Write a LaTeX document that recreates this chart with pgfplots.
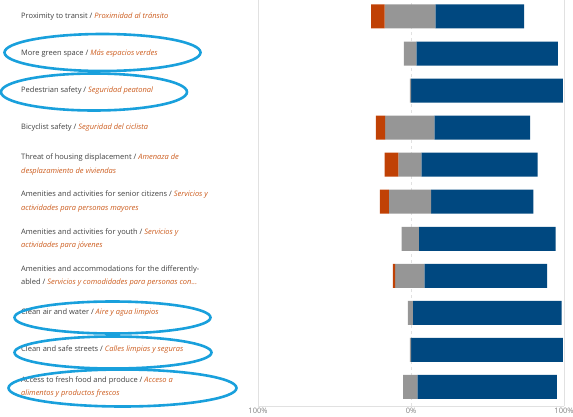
\documentclass[border=0pt]{standalone}
\usepackage{pgfplots}
\pgfplotsset{compat=1.18}
\usepackage{pgfplotstable}
\usepackage{fontspec}
\setmainfont{Open Sans}
\definecolor{negc}{RGB}{192,65,5}
\definecolor{neuc}{RGB}{150,150,150}
\definecolor{posc}{RGB}{0,72,128}
\definecolor{esc}{RGB}{204,92,30}
\definecolor{lblc}{RGB}{64,64,64}
\definecolor{ringc}{RGB}{25,160,220}
\definecolor{gridc}{RGB}{225,225,225}
\newcommand{\es}[1]{\textcolor{esc}{\textit{#1}}}

% x axis runs 0..200, where 100 is the 0% line
\pgfplotstableread{
y start neg neu pos
11 74.0 8.7 33.2 58.1
10 95.4 0 8.1 92.5
9 99.3 0 0.8 99.2
8 77.0 6.1 32.2 62.5
7 82.7 9.0 15.1 76.0
6 79.7 5.9 27.5 66.9
5 93.8 0 11.4 89.4
4 88.2 1.5 19.0 80.2
3 98.0 0 3.3 97.1
2 99.3 0 0.7 99.3
1 94.8 0 9.3 91.2
}\datatable

\begin{document}
\begin{tikzpicture}
\useasboundingbox (0,0) rectangle (573bp,-417bp);
\begin{axis}[
  at={(258bp,-406bp)}, anchor=south west,
  scale only axis, width=306bp, height=406bp,
  xbar stacked, bar width=24bp,
  xmin=0, xmax=200, ymin=0.487, ymax=11.445,
  axis line style={draw=none},
  major tick style={draw=none},
  xtick={0,200}, xticklabels={100\%,100\%},
  extra x ticks={100}, extra x tick labels={0\%},
  extra x tick style={grid style={gridc, dashed, line width=0.6pt}},
  xmajorgrids, grid style={gridc, line width=0.6pt},
  xticklabel style={font=\fontsize{7.5bp}{9bp}\selectfont, text=gray, inner sep=1.5pt},
  ytick={1,...,11},
  yticklabels={
    {Access to fresh food and produce / \es{Acceso a}\\\es{alimentos y productos frescos}},
    {Clean and safe streets / \es{Calles limpias y seguras}},
    {Clean air and water / \es{Aire y agua limpios}},
    {Amenities and accommodations for the differently-\\abled / \es{Servicios y comodidades para personas con...}},
    {Amenities and activities for youth / \es{Servicios y}\\\es{actividades para jóvenes}},
    {Amenities and activities for senior citizens / \es{Servicios y}\\\es{actividades para personas mayores}},
    {Threat of housing displacement / \es{Amenaza de}\\\es{desplazamiento de viviendas}},
    {Bicyclist safety / \es{Seguridad del ciclista}},
    {Pedestrian safety / \es{Seguridad peatonal}},
    {More green space / \es{Más espacios verdes}},
    {Proximity to transit / \es{Proximidad al tránsito}}
  },
  yticklabel style={font=\fontsize{7.5bp}{13.5bp}\selectfont, text=lblc,
    anchor=west, align=left, inner sep=0pt, xshift=-237bp},
]
\addplot[draw=none, fill=none] table[x=start, y=y] {\datatable};
\addplot[draw=none, fill=negc] table[x=neg, y=y] {\datatable};
\addplot[draw=none, fill=neuc] table[x=neu, y=y] {\datatable};
\addplot[draw=none, fill=posc] table[x=pos, y=y] {\datatable};
\draw[gridc, line width=0.6pt] (axis cs:0,0.487) -- (axis cs:200,0.487);
\end{axis}
\begin{scope}[ringc, line width=2.6bp]
\draw (102.5bp,-52.5bp) ellipse [x radius=98bp, y radius=18.5bp];
\draw (94bp,-92bp) ellipse [x radius=93bp, y radius=18.5bp];
\draw (112.5bp,-317.5bp) ellipse [x radius=98bp, y radius=16bp];
\draw (113bp,-352.5bp) ellipse [x radius=98.5bp, y radius=16bp];
\draw (122.5bp,-388bp) ellipse [x radius=114bp, y radius=18.5bp];
\end{scope}
\end{tikzpicture}
\end{document}
